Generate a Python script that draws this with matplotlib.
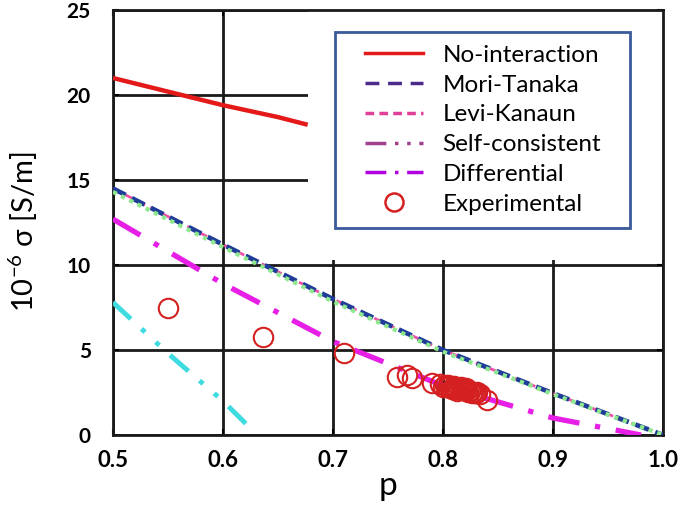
import numpy as np
import matplotlib.pyplot as plt
from matplotlib.lines import Line2D
from matplotlib.patches import Rectangle

plt.rcParams['font.family'] = ['Lato', 'DejaVu Sans']
plt.rcParams['mathtext.default'] = 'regular'

# curves
p_noint = [0.5, 0.55, 0.6, 0.65, 0.677]
s_noint = [21.0, 20.2, 19.4, 18.7, 18.25]

p_mt = [0.5, 0.6, 0.7, 0.8, 0.9, 1.0]
s_mt = [14.5, 11.2, 8.0, 5.0, 2.45, 0.0]
s_green = [14.3, 11.05, 7.85, 4.9, 2.4, 0.0]

p_sc = [0.5, 0.55, 0.6, 0.625]
s_sc = [7.8, 4.8, 2.0, 0.4]

p_diff = [0.5, 0.6, 0.7, 0.8, 0.9, 0.98]
s_diff = [12.7, 8.9, 5.5, 2.9, 1.0, 0.0]

p_exp = [0.55, 0.636, 0.71, 0.758, 0.767, 0.772, 0.79, 0.797, 0.800, 0.802,
         0.804, 0.806, 0.808, 0.810, 0.811, 0.813, 0.815, 0.816, 0.818, 0.82,
         0.821, 0.823, 0.825, 0.826, 0.829, 0.831, 0.834, 0.84,
         0.805, 0.809, 0.812, 0.817, 0.819, 0.822, 0.827, 0.830]
s_exp = [7.5, 5.75, 4.8, 3.41, 3.53, 3.35, 3.06, 3.0, 2.85, 2.94,
         2.8, 2.88, 2.72, 2.9, 2.76, 2.6, 2.7, 2.82, 2.62, 2.65,
         2.75, 2.55, 2.6, 2.5, 2.47, 2.55, 2.4, 2.06,
         2.95, 2.8, 2.68, 2.75, 2.7, 2.62, 2.52, 2.45]

fig = plt.figure(figsize=(6.83, 5.08), dpi=100)
ax = fig.add_axes([0.1654, 0.1437, 0.8053, 0.8366])

ax.plot(p_noint, s_noint, color='#e41a1a', lw=3.2, solid_capstyle='butt', zorder=3)
ax.plot(p_mt, s_mt, color='#1f3c99', lw=3.4, ls=(0, (3, 1.5)), zorder=3)
ax.plot(p_mt, s_mt, color='#ef4fa8', lw=2, ls=(0, (3, 2)), zorder=2.9)
ax.plot(p_mt, s_green, color='#8ee88e', lw=3, ls=(0, (1, 1.2)), zorder=3.1)
ax.plot(p_sc, s_sc, color='#3edbe0', lw=3.5, ls=(0, (5, 3, 1, 3, 1, 3)), zorder=3)
ax.plot(p_diff, s_diff, color='#e61ee6', lw=3.8, ls=(0, (6, 3, 1, 3)), zorder=3)
ax.plot(p_exp, s_exp, 'o', mfc='none', mec='#d42020', mew=1.5, ms=14, zorder=4)

ax.set_xlim(0.5, 1.0)
ax.set_ylim(0, 25)
ax.set_xticks([0.5, 0.6, 0.7, 0.8, 0.9, 1.0])
ax.set_xticklabels(['0.5', '0.6', '0.7', '0.8', '0.9', '1.0'])
ax.set_yticks([0, 5, 10, 15, 20, 25])
ax.grid(True, color='#1a1a1a', lw=2)
ax.tick_params(direction='in', length=4, width=1.5, top=True, right=True)
ax.tick_params(axis='x', labelsize=16, pad=11)
ax.tick_params(axis='y', labelsize=15, pad=16)
for lab in ax.get_xticklabels() + ax.get_yticklabels():
    lab.set_fontweight('bold')
for s in ax.spines.values():
    s.set_linewidth(2)
    s.set_color('#1a1a1a')

# white block over the grid behind the legend
ax.add_patch(Rectangle((0.677, 10.3), 0.323, 14.7, facecolor='white',
                       edgecolor='none', zorder=1.8))
# legend frame
ax.add_patch(Rectangle((0.4036, 0.487), 0.536, 0.461, transform=ax.transAxes,
                       facecolor='white', edgecolor='#3a5a9a', lw=2, zorder=4.5))

ax.set_xlabel('p', fontsize=24, labelpad=0)
ax.set_ylabel('10$^{-6}$ σ [S/m]', fontsize=21)
ax.yaxis.set_label_coords(-0.133, 0.478)

handles = [
    Line2D([], [], color='#e41a1a', lw=2.5),
    Line2D([], [], color='#4b2c8a', lw=2.5, ls=(0, (4, 2.5))),
    Line2D([], [], color='#e0409a', lw=2.5, ls=(0, (2.5, 1.5))),
    Line2D([], [], color='#a0408c', lw=2.5, ls=(0, (6, 2.5, 1, 2.5, 1, 2.5))),
    Line2D([], [], color='#b000e0', lw=2.5, ls=(0, (6, 2.5, 1, 2.5))),
    Line2D([], [], ls='none', marker='o', mfc='none', mec='#d42020', mew=1.8, ms=13),
]
labels = ['No-interaction', 'Mori-Tanaka', 'Levi-Kanaun', 'Self-consistent',
          'Differential', 'Experimental']
leg = ax.legend(handles, labels, loc='upper left', bbox_to_anchor=(0.458, 0.918),
                fontsize=17.5, frameon=False,
                handlelength=2.4, handletextpad=0.8, labelspacing=0.36,
                borderpad=0, borderaxespad=0)
leg.set_zorder(5)

fig.savefig('out.png', dpi=100)
